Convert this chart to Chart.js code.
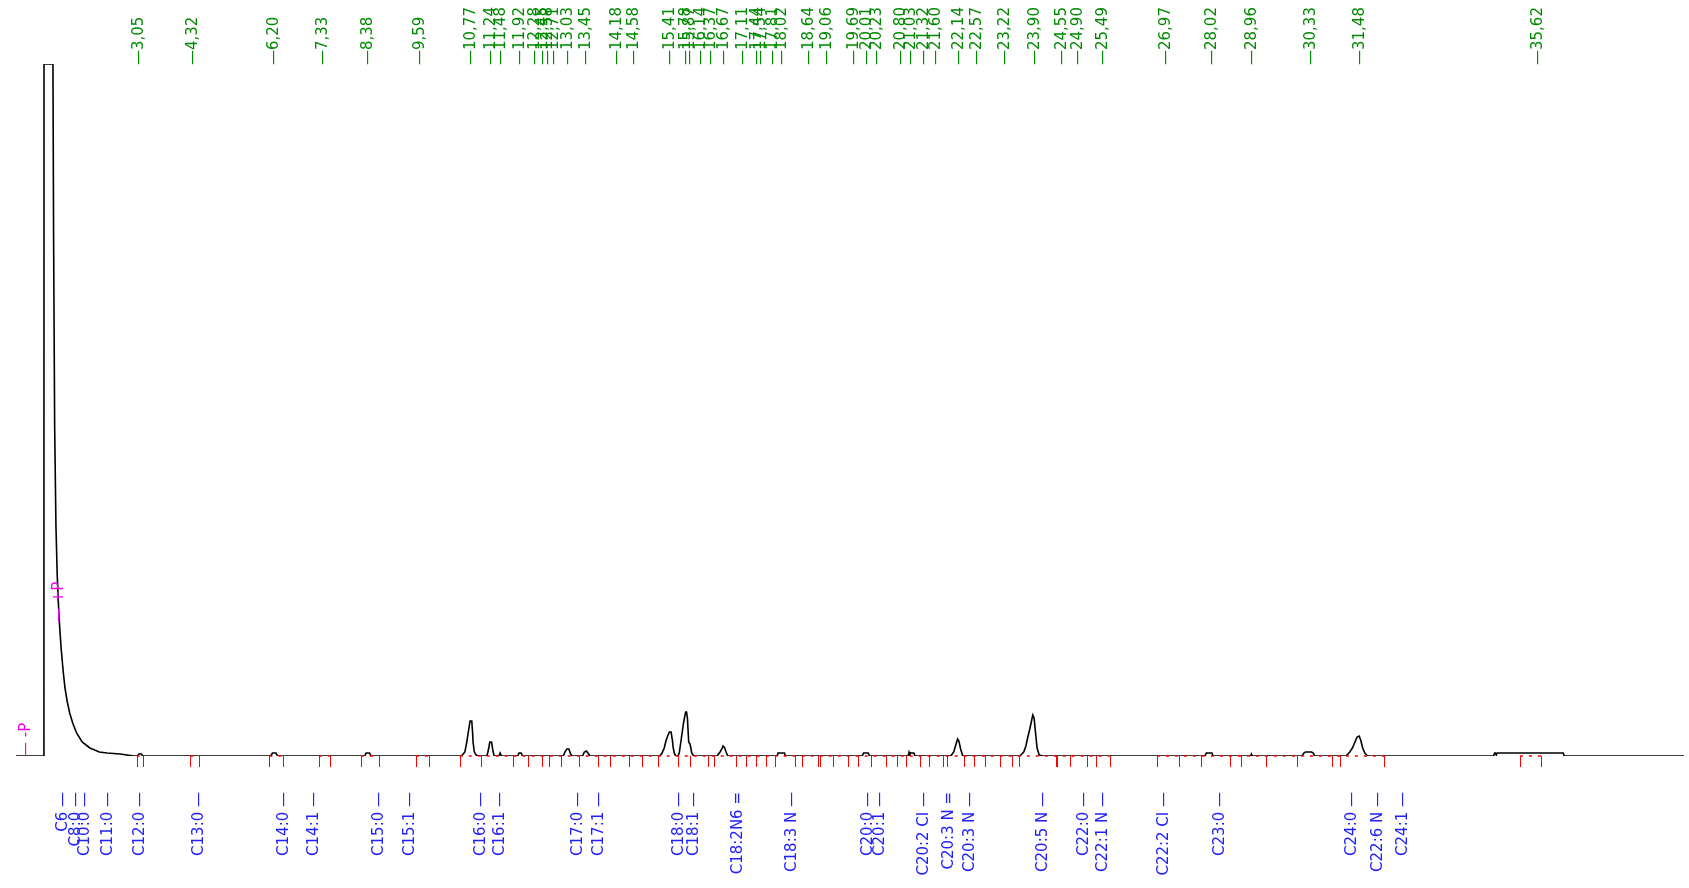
<!DOCTYPE html>
<html>
<head>
<meta charset="utf-8">
<script src="https://cdn.jsdelivr.net/npm/chart.js@4/dist/chart.umd.min.js"></script>
<style>
html,body{margin:0;padding:0;background:#fff;}
canvas{display:block;}
</style>
</head>
<body>
<canvas id="c" width="1689" height="888"></canvas>
<script>
// Chromatogram trace: retention time (min) and detector signal
const traceTime = [0.20,0.85,0.852,1.06,1.075,1.10,1.13,1.16,1.20,1.25,1.30,1.34,1.39,1.45,1.52,1.61,1.74,1.92,2.14,2.32,2.62,2.95,
3.03,3.06,3.12,3.15,6.13,6.17,6.25,6.29,8.32,8.35,8.43,8.46,
10.57,10.65,10.69,10.73,10.77,10.81,10.83,10.84,10.87,10.91,10.96,
11.16,11.18,11.21,11.23,11.27,11.30,11.33,11.44,11.47,11.50,11.88,11.91,11.96,11.99,
12.94,12.98,13.02,13.07,13.11,13.14,13.39,13.43,13.48,13.53,13.56,
15.19,15.24,15.29,15.33,15.37,15.41,15.45,15.48,15.50,15.53,15.56,
15.61,15.64,15.67,15.71,15.74,15.77,15.79,15.81,15.83,15.86,15.89,15.91,15.93,15.96,16.00,
16.52,16.59,16.63,16.66,16.70,16.73,16.77,17.92,17.94,18.09,18.11,19.90,19.93,20.04,20.07,
20.97,20.99,21.01,21.03,21.10,21.13,21.96,22.03,22.07,22.12,22.15,22.19,22.24,
23.57,23.66,23.71,23.75,23.80,23.84,23.87,23.90,23.93,23.97,24.02,24.10,
27.88,27.91,28.04,28.07,28.94,28.96,28.98,30.14,30.18,30.22,30.36,30.40,30.43,
31.16,31.25,31.31,31.36,31.42,31.47,31.51,31.55,31.60,31.66,
34.60,34.62,34.64,34.66,34.68,36.22,36.24,39.03];
const traceSignal = [0,0,692,692,520,330,230,180,140,108,84,68,55,43,33,23,14,8,4,3,2,0,
0,2,2,0,0,3,3,0,0,3,3,0,
0,4,13,24,35,35,23,14,4,1,0,
0,3,9,14,14,6,0,0,3,0,0,3,3,0,
0,4,7,7,2,0,0,4,5,2,0,
0,3,8,15,20,24,24,16,8,2,0,
0,3,12,24,33,40,44,44,38,14,12,8,3,1,0,
0,4,7,10,8,4,0,0,3,3,0,0,3,3,0,
0,4,2,3,3,0,0,4,10,17,15,7,0,
0,4,10,18,27,35,41,38,25,8,1,0,
0,3,3,0,0,2,0,0,3,4,4,3,0,
0,4,8,13,19,20,15,8,3,0,
0,3,3,1,3,3,0,0];

// Retention times printed at the top (green)
const rtTimes = [3.05,4.32,6.20,7.33,8.38,9.59,10.77,11.24,11.48,11.92,12.28,12.45,12.58,12.71,13.03,13.45,14.18,14.58,
15.41,15.78,15.87,16.14,16.37,16.67,17.11,17.44,17.54,17.81,18.02,18.64,19.06,19.69,20.01,20.23,20.80,21.03,21.32,21.60,
22.14,22.57,23.22,23.90,24.55,24.90,25.49,26.97,28.02,28.96,30.33,31.48,35.62];

// Compound identifications at the bottom (blue)
const compoundNames = ["C6","C8:0","C10:0","C11:0","C12:0","C13:0","C14:0","C14:1","C15:0","C15:1","C16:0","C16:1",
"C17:0","C17:1","C18:0","C18:1","C18:2N6","C18:3 N","C20:0","C20:1","C20:2 CI","C20:3 N","C20:3 N","C20:5 N",
"C22:0","C22:1 N","C22:2 CI","C23:0","C24:0","C22:6 N","C24:1"];
const compoundTimes = [1.28,1.58,1.79,2.32,3.08,4.46,6.42,7.13,8.65,9.36,11.01,11.45,13.28,13.77,15.63,15.97,17.00,18.25,
20.03,20.30,21.33,21.90,22.40,24.10,25.04,25.49,26.92,28.21,31.29,31.90,32.47];
const compoundMarks = ["—","—","—","—","—","—","—","—","—","—","—","—","—","—","—","—","=","—","—","—","—","=","—","—",
"—","—","—","—","—","—","—"];

// Integration marks (red) and integrated baseline ranges
const integTimes = [3.01,3.16,4.26,4.47,6.10,6.42,7.25,7.50,8.23,8.65,9.51,9.81,10.53,11.02,11.78,12.12,12.44,12.61,12.88,13.31,
13.75,14.03,14.47,14.77,15.15,15.60,15.88,16.30,16.44,16.97,17.20,17.43,17.67,17.88,18.34,18.50,18.87,18.92,19.22,19.56,
19.81,20.10,20.46,20.70,20.92,21.24,21.46,21.79,21.88,22.26,22.51,22.75,23.11,23.38,23.55,24.42,24.44,24.73,25.13,25.35,
25.66,26.76,27.28,27.78,28.45,28.71,29.31,30.01,30.84,31.03,32.05,35.21,35.71];
const baselineStart = [3.01,4.26,6.10,7.25,8.23,9.51,10.53,26.76,35.21];
const baselineEnd   = [3.16,4.47,6.42,7.50,8.65,9.81,25.66,32.05,35.71];

// Integration events (magenta)
const eventTimes = [0.43,1.18];
const eventLabels = ["— -P","— +P"];

const FONT = '15px "DejaVu Sans"';

const overlay = {
  id: 'overlay',
  afterDatasetsDraw(chart) {
    const ctx = chart.ctx;
    const xs = chart.scales.x, ys = chart.scales.y;
    const y0 = Math.round(ys.getPixelForValue(0));
    ctx.save();
    // integrated baseline, red dashed
    ctx.strokeStyle = '#ff0000';
    ctx.lineWidth = 1.5;
    ctx.setLineDash([3,6]);
    for (let i = 0; i < baselineStart.length; i++) {
      ctx.beginPath();
      ctx.moveTo(xs.getPixelForValue(baselineStart[i]), y0);
      ctx.lineTo(xs.getPixelForValue(baselineEnd[i]), y0);
      ctx.stroke();
    }
    ctx.setLineDash([]);
    ctx.lineWidth = 1;
    integTimes.forEach(t => {
      const x = Math.round(xs.getPixelForValue(t)) + 0.5;
      ctx.beginPath();
      ctx.moveTo(x, y0);
      ctx.lineTo(x, y0 + 11);
      ctx.stroke();
    });
    ctx.font = FONT;
    ctx.textBaseline = 'alphabetic';
    // green retention times
    ctx.fillStyle = '#008a00';
    rtTimes.forEach(t => {
      const x = xs.getPixelForValue(t);
      ctx.save();
      ctx.translate(x + 4.5, 65);
      ctx.rotate(-Math.PI / 2);
      ctx.textAlign = 'left';
      ctx.fillText('—' + t.toFixed(2).replace('.', ','), 0, 0);
      ctx.restore();
    });
    // blue compound names
    ctx.fillStyle = '#2020ff';
    compoundNames.forEach((n, i) => {
      const x = xs.getPixelForValue(compoundTimes[i]);
      ctx.save();
      ctx.translate(x + 4.5, 792);
      ctx.rotate(-Math.PI / 2);
      ctx.textAlign = 'right';
      ctx.fillText(n + ' ' + compoundMarks[i], 0, 0);
      ctx.restore();
    });
    // magenta events
    ctx.fillStyle = '#ee00ee';
    const eventY = [757, 623];
    eventTimes.forEach((t, i) => {
      const x = xs.getPixelForValue(t);
      ctx.save();
      ctx.translate(x + 4.5, eventY[i]);
      ctx.rotate(-Math.PI / 2);
      ctx.textAlign = 'left';
      ctx.fillText(eventLabels[i], 0, 0);
      ctx.restore();
    });
    ctx.restore();
  }
};

new Chart(document.getElementById('c'), {
  type: 'line',
  data: {
    datasets: [{
      data: traceTime.map((t, i) => ({x: t, y: traceSignal[i]})),
      borderColor: '#000000',
      borderWidth: 1.6,
      pointRadius: 0,
      tension: 0,
      fill: false
    }]
  },
  options: {
    responsive: false,
    animation: false,
    devicePixelRatio: 1,
    layout: { padding: { left: 16, right: 5, top: 64, bottom: 132 } },
    plugins: { legend: { display: false }, tooltip: { enabled: false } },
    scales: {
      x: { type: 'linear', min: 0.2, max: 39.03, display: false },
      y: { min: 0, max: 692, display: false }
    }
  },
  plugins: [overlay]
});
</script>
</body>
</html>
